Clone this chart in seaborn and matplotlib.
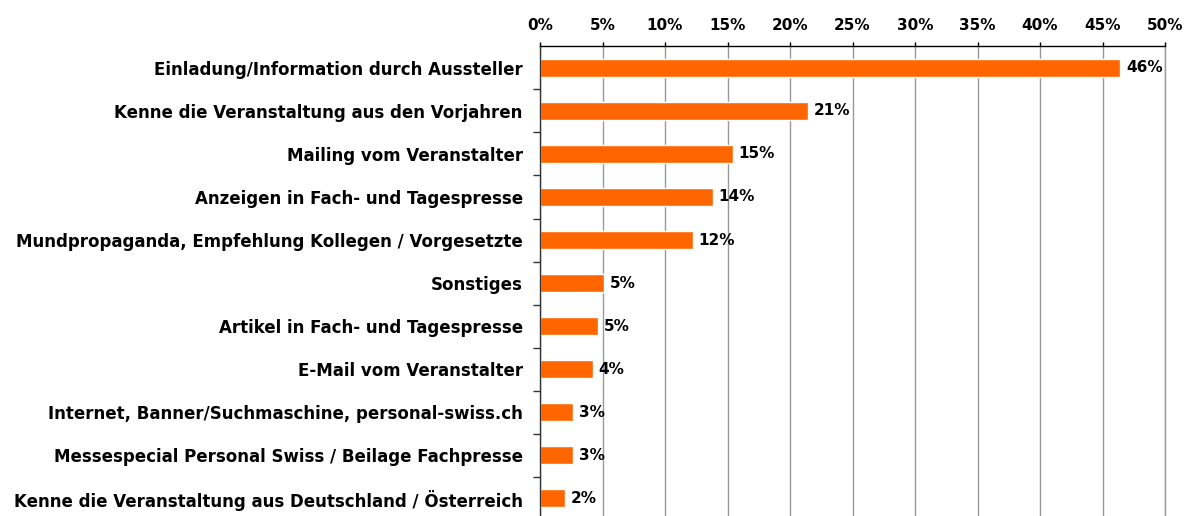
import matplotlib
matplotlib.use("Agg")
import matplotlib.pyplot as plt
import seaborn as sns
import pandas as pd
from matplotlib.ticker import FixedLocator

categories = [
    "Einladung/Information durch Aussteller",
    "Kenne die Veranstaltung aus den Vorjahren",
    "Mailing vom Veranstalter",
    "Anzeigen in Fach- und Tagespresse",
    "Mundpropaganda, Empfehlung Kollegen / Vorgesetzte",
    "Sonstiges",
    "Artikel in Fach- und Tagespresse",
    "E-Mail vom Veranstalter",
    "Internet, Banner/Suchmaschine, personal-swiss.ch",
    "Messespecial Personal Swiss / Beilage Fachpresse",
    "Kenne die Veranstaltung aus Deutschland / Österreich",
]
values = [46.4, 21.4, 15.4, 13.8, 12.2, 5.1, 4.6, 4.2, 2.6, 2.6, 2.0]
x_ticks = [0, 5, 10, 15, 20, 25, 30, 35, 40, 45, 50]

df = pd.DataFrame({"cat": categories, "val": values})

sns.set_style("white")
plt.rcParams["font.family"] = ["DejaVu Sans"]
plt.rcParams["font.weight"] = "bold"
plt.rcParams["text.color"] = "black"
plt.rcParams["xtick.color"] = "black"
plt.rcParams["ytick.color"] = "black"

fig = plt.figure(figsize=(11.87, 5.16), dpi=100)
ax = fig.add_axes([540 / 1187, -0.007, 625 / 1187, 0.917])

sns.barplot(data=df, x="val", y="cat", color="#FF6600", saturation=1,
            width=0.42, ax=ax, zorder=3)

ax.set_xlim(0, 50)
ax.set_ylim(len(categories) - 0.5, -0.5)
ax.xaxis.tick_top()
ax.set_xticks(x_ticks)
ax.set_xticklabels([f"{t}%" for t in x_ticks], fontsize=11, fontweight="bold")
ax.tick_params(axis="x", top=True, length=3, width=1, color="black", pad=7)
ax.grid(axis="x", color="#999999", linewidth=1, zorder=0)
ax.set_axisbelow(True)

ax.set_yticklabels(categories, fontsize=12, fontweight="bold")
ax.tick_params(axis="y", which="major", length=0, pad=12.5)
ax.yaxis.set_minor_locator(FixedLocator([i + 0.5 for i in range(len(categories) - 1)]))
ax.tick_params(axis="y", which="minor", left=True, length=5, width=1, color="#333333")

ax.set_xlabel("")
ax.set_ylabel("")
ax.spines["bottom"].set_visible(False)
ax.spines["right"].set_color("#999999")
ax.spines["top"].set_color("black")
ax.spines["left"].set_color("#333333")
for s in ["top", "left", "right"]:
    ax.spines[s].set_linewidth(1)
    ax.spines[s].set_zorder(4)

ax.bar_label(ax.containers[0], labels=[f"{v:.0f}%" for v in values],
             padding=4.5, fontsize=11, fontweight="bold")

fig.savefig("out.png", dpi=100)
